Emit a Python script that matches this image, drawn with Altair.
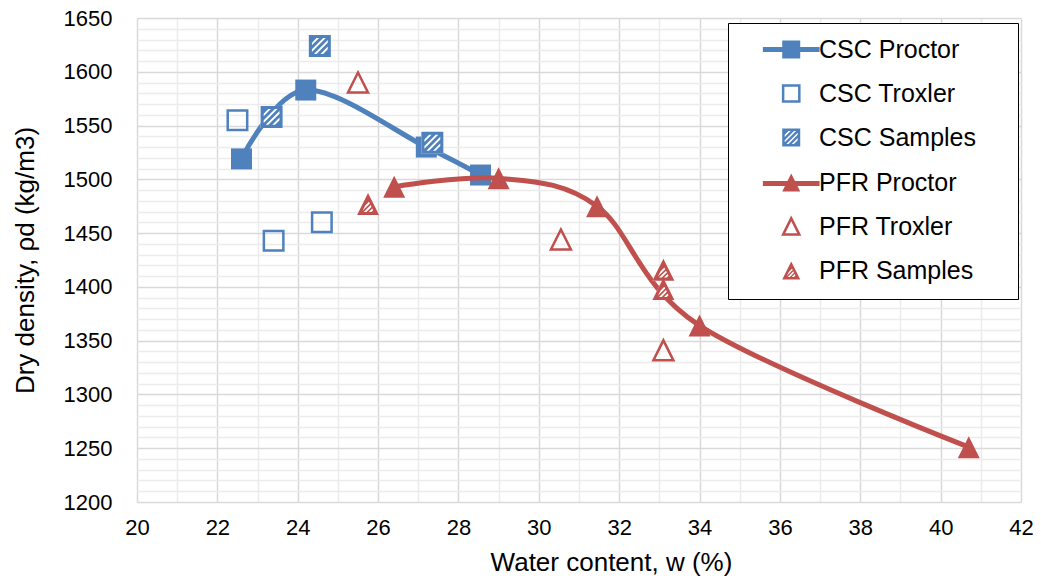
import altair as alt
import pandas as pd

# ---------------- data ----------------
csc_proctor_w = [22.6, 24.2, 27.2, 28.55]
csc_proctor_rho = [1519, 1583, 1530, 1504]
csc_troxler_w = [22.5, 23.4, 24.6]
csc_troxler_rho = [1555, 1443, 1460]
csc_samples_w = [24.55, 23.35, 27.35]
csc_samples_rho = [1624, 1558, 1534]
pfr_proctor_w = [26.4, 29.0, 31.45, 34.0, 40.7]
pfr_proctor_rho = [1493, 1501, 1475, 1364, 1251]
pfr_troxler_w = [25.5, 30.55, 33.1]
pfr_troxler_rho = [1590, 1444, 1341]
pfr_samples_w = [25.75, 33.1, 33.1]
pfr_samples_rho = [1477, 1416, 1398]

series_names = ["CSC Proctor", "CSC Troxler", "CSC Samples",
                "PFR Proctor", "PFR Troxler", "PFR Samples"]

x_grid = [v / 2 for v in range(40, 85)]      # 20 .. 42 every 0.5
y_grid = list(range(1200, 1651, 10))          # 1200 .. 1650 every 10

BLUE = "#4f81bd"
RED = "#c0504d"
FONT = "Liberation Sans"

# ---------------- marker shapes (unit box -1..1) ----------------
def clip(poly, a, b, c):
    """keep part with a*x + b*y <= c"""
    out = []
    n = len(poly)
    for i in range(n):
        p, q = poly[i], poly[(i + 1) % n]
        fp = a * p[0] + b * p[1] - c
        fq = a * q[0] + b * q[1] - c
        if fp <= 0:
            out.append(p)
        if (fp < 0 < fq) or (fq < 0 < fp):
            t = fp / (fp - fq)
            out.append((p[0] + t * (q[0] - p[0]), p[1] + t * (q[1] - p[1])))
    return out


def signed_area(poly):
    s = 0.0
    for i in range(len(poly)):
        x1, y1 = poly[i]
        x2, y2 = poly[(i + 1) % len(poly)]
        s += x1 * y2 - x2 * y1
    return s


def ppath(poly, sign=1, dx=0.0):
    if signed_area(poly) * sign < 0:
        poly = poly[::-1]
    pts = ["%.3f,%.3f" % (x + dx, y) for x, y in poly]
    return "M" + "L".join(pts) + "Z"


SQUARE = [(-1, -1), (1, -1), (1, 1), (-1, 1)]
TRI = [(0, -1), (1, 1), (-1, 1)]


def scaled(poly, k, cy=0.0):
    return [(x * k, cy + (y - cy) * k) for x, y in poly]


def hatched(outer, inner, centers, half, dx=0.0):
    parts = [ppath(outer, 1, dx)]
    for c in centers:
        band = clip(inner, 1, 1, c + half)
        band = clip(band, -1, -1, -(c - half))
        if len(band) >= 3:
            parts.append(ppath(band, -1, dx))
    return "".join(parts)


def bar(x0, x1, y0, y1):
    return [(x0, y0), (x1, y0), (x1, y1), (x0, y1)]


SQ_INNER = scaled(SQUARE, 0.72)
TRI_INNER = scaled(TRI, 0.547, 0.382)
SQ_HATCH_C = [-0.9, -0.3, 0.3, 0.9]
TRI_HATCH_C = [0.0, 0.45, 0.9]

square_path = ppath(SQUARE)
tri_path = ppath(TRI)
square_hatch = hatched(SQUARE, SQ_INNER, SQ_HATCH_C, 0.12)
tri_hatch = hatched(TRI, TRI_INNER, TRI_HATCH_C, 0.12)

# legend symbols (shifted right so they sit under the line sample)
D = 4.08
legend_shapes = [
    ppath(SQUARE, 1, D) + ppath(bar(-3.15, 3.15, -0.28, 0.28), 1, D),
    ppath(scaled(SQUARE, 0.9), 1, D),
    hatched(SQUARE, SQ_INNER, SQ_HATCH_C, 0.12, D),
    ppath(TRI, 1, D) + ppath(bar(-3.15, 3.15, -0.18, 0.38), 1, D),
    ppath(scaled(TRI, 0.9), 1, D),
    hatched(TRI, TRI_INNER, TRI_HATCH_C, 0.12, D),
]
legend_fills = [BLUE, "transparent", BLUE, RED, "transparent", RED]
legend_strokes = ["transparent", BLUE, "transparent", "transparent", RED, "transparent"]

# ---------------- axes ----------------
x_enc = alt.X(
    "w:Q",
    scale=alt.Scale(domain=[20, 42], nice=False, zero=False),
    axis=alt.Axis(
        values=x_grid, format="d",
        labelExpr="datum.value % 2 === 0 ? datum.label : ''",
        gridColor={"condition": {"test": "datum.value % 2 === 0", "value": "#d9d9d9"},
                   "value": "#ececec"},
        gridWidth=1.5,
        ticks=False, domain=False,
        labelFont=FONT, labelFontSize=22, labelColor="black",
        labelPadding=15, labelFlush=False, labelOverlap=False,
        title="Water content, w (%)",
        titleFont=FONT, titleFontSize=26, titleFontWeight="normal",
        titleColor="black", titlePadding=11, titleX=474,
    ),
)
y_enc = alt.Y(
    "rho:Q",
    scale=alt.Scale(domain=[1200, 1650], nice=False, zero=False),
    axis=alt.Axis(
        values=y_grid, format="d",
        labelExpr="datum.value % 50 === 0 ? datum.label : ''",
        gridColor={"condition": {"test": "datum.value % 50 === 0", "value": "#d9d9d9"},
                   "value": "#ececec"},
        gridWidth=1.5,
        ticks=False, domain=False,
        labelFont=FONT, labelFontSize=22, labelColor="black",
        labelPadding=25, labelOverlap=False,
        title="Dry density, ρd (kg/m3)",
        titleFont=FONT, titleFontSize=26, titleFontWeight="normal",
        titleColor="black", titlePadding=25,
    ),
)


def frame(w, rho):
    return pd.DataFrame({"w": w, "rho": rho})


def points(w, rho, **mark):
    return alt.Chart(frame(w, rho)).mark_point(opacity=1, **mark).encode(x=x_enc, y=y_enc)


def line(w, rho, color):
    return alt.Chart(frame(w, rho)).mark_line(
        interpolate="cardinal", color=color, strokeWidth=5, strokeCap="round"
    ).encode(x=x_enc, y=y_enc)


layers = [
    line(csc_proctor_w, csc_proctor_rho, BLUE),
    points(csc_proctor_w, csc_proctor_rho, shape=square_path, filled=True, fill=BLUE, strokeWidth=0, size=441),
    points(csc_troxler_w, csc_troxler_rho, shape=square_path, filled=False, stroke=BLUE, strokeWidth=2.5, size=380),
    points(csc_samples_w, csc_samples_rho, shape=square_path, filled=True, fill="white", strokeWidth=0, size=484),
    points(csc_samples_w, csc_samples_rho, shape=square_hatch, filled=True, fill=BLUE, strokeWidth=0, size=484),
    line(pfr_proctor_w, pfr_proctor_rho, RED),
    points(pfr_proctor_w, pfr_proctor_rho, shape=tri_path, filled=True, fill=RED, strokeWidth=0, size=484),
    points(pfr_troxler_w, pfr_troxler_rho, shape=tri_path, filled=False, stroke=RED, strokeWidth=2.5, size=400),
    points(pfr_samples_w, pfr_samples_rho, shape=tri_path, filled=True, fill="white", strokeWidth=0, size=484),
    points(pfr_samples_w, pfr_samples_rho, shape=tri_hatch, filled=True, fill=RED, strokeWidth=0, size=484),
]

legend = alt.Legend(
    title=".", titleOrient="right", titleColor="transparent", titleFontSize=2, titlePadding=27,
    orient="none", legendX=591, legendY=5,
    labelFont=FONT, labelFontSize=25, labelColor="black",
    symbolSize=324, symbolStrokeWidth=2.5,
    labelOffset=52, rowPadding=16, padding=14,
    strokeColor="black", fillColor="white",
)

carrier = alt.Chart(pd.DataFrame({"series": series_names})).transform_filter("false").mark_point(
    filled=True, opacity=1, strokeWidth=2.5
).encode(
    shape=alt.Shape("series:N", scale=alt.Scale(domain=series_names, range=legend_shapes), legend=legend),
    fill=alt.Fill("series:N", scale=alt.Scale(domain=series_names, range=legend_fills), legend=legend),
    stroke=alt.Stroke("series:N", scale=alt.Scale(domain=series_names, range=legend_strokes), legend=legend),
)

chart = alt.layer(*layers, carrier).properties(
    width=884, height=484,
    autosize=alt.AutoSizeParams(type="none"),
    padding={"left": 137, "top": 18, "right": 20, "bottom": 81},
    background="white",
).configure_view(strokeWidth=0)

chart.save("out.html", embed_options={"renderer": "svg", "actions": False})
